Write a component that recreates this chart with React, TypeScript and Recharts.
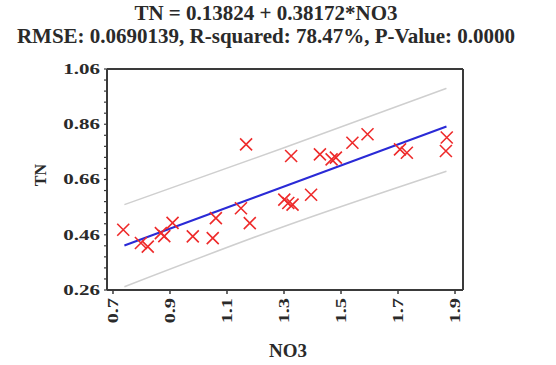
import { ComposedChart, Line, Scatter, XAxis, YAxis } from "recharts";

const no3Values = [
  0.736, 0.798, 0.822, 0.868, 0.909, 0.88, 0.98, 1.05, 1.061, 1.167, 1.149,
  1.18, 1.301, 1.33, 1.315, 1.325, 1.395, 1.426, 1.467, 1.482, 1.54, 1.593,
  1.707, 1.731, 1.871, 1.868,
];
const tnValues = [
  0.478, 0.43, 0.417, 0.466, 0.503, 0.455, 0.454, 0.448, 0.52, 0.787, 0.556,
  0.502, 0.587, 0.569, 0.575, 0.745, 0.605, 0.751, 0.733, 0.739, 0.793, 0.824,
  0.769, 0.757, 0.812, 0.763,
];

// fitted model and prediction limits
const fitX = [0.74, 1.87];
const fitY = [0.421, 0.852];
const upperX = [0.74, 1.3, 1.87];
const upperY = [0.569, 0.775, 0.99];
const lowerX = [0.74, 1.3, 1.87];
const lowerY = [0.272, 0.49, 0.69];

const xTicks = [0.7, 0.9, 1.1, 1.3, 1.5, 1.7, 1.9];
const yTicks = [0.26, 0.46, 0.66, 0.86, 1.06];
const yMinorTicks = [
  0.26, 0.3, 0.34, 0.38, 0.42, 0.46, 0.5, 0.54, 0.58, 0.62, 0.66, 0.7, 0.74,
  0.78, 0.82, 0.86, 0.9, 0.94, 0.98, 1.02, 1.06,
];

const xDomain: [number, number] = [0.679, 1.928];
const yDomain: [number, number] = [0.26, 1.06];

const toPoints = (xs: number[], ys: number[]) =>
  xs.map((x, i) => ({ x, y: ys[i] }));

const samples = toPoints(no3Values, tnValues);
const fitLine = toPoints(fitX, fitY);
const upperBand = toPoints(upperX, upperY);
const lowerBand = toPoints(lowerX, lowerY);

const FONT = '"Liberation Serif", "DejaVu Serif", serif';
const FRAME = "#3a3a3a";
const TEXT = "#2a2a2a";

const CrossShape = (props: { cx?: number; cy?: number }) => {
  const { cx = 0, cy = 0 } = props;
  const r = 6;
  return (
    <path
      d={`M${cx - r},${cy - r}L${cx + r},${cy + r}M${cx - r},${cy + r}L${cx + r},${cy - r}`}
      stroke="#ee2a2a"
      strokeWidth={1.6}
      fill="none"
    />
  );
};

const XTick = (props: { x?: number; y?: number; payload?: { value: number } }) => {
  const { x = 0, y = 0, payload } = props;
  return (
    <text
      transform={`translate(${x}, ${y + 2}) rotate(-90) scale(1.45, 1)`}
      textAnchor="end"
      dominantBaseline="central"
      fontFamily={FONT}
      fontWeight="bold"
      fontSize={14}
      fill={TEXT}
    >
      {payload ? payload.value.toFixed(1) : ""}
    </text>
  );
};

const YTick = (props: { x?: number; y?: number; payload?: { value: number } }) => {
  const { x = 0, y = 0, payload } = props;
  if (!payload || !yTicks.some((t) => Math.abs(t - payload.value) < 1e-6)) {
    return <g />;
  }
  return (
    <text
      transform={`translate(${x}, ${y}) scale(1.4, 1)`}
      textAnchor="end"
      dominantBaseline="central"
      fontFamily={FONT}
      fontWeight="bold"
      fontSize={15}
      fill={TEXT}
    >
      {payload.value.toFixed(2)}
    </text>
  );
};

const App = () => {
  return (
    <div
      style={{
        position: "absolute",
        left: 0,
        top: 0,
        width: 556,
        height: 365,
        background: "#fff",
        fontFamily: FONT,
      }}
    >
      <div
        style={{
          position: "absolute",
          left: 0,
          width: 532,
          top: 2,
          textAlign: "center",
          fontWeight: "bold",
          fontSize: 21,
          color: TEXT,
          lineHeight: "23px",
        }}
      >
        <div>TN = 0.13824 + 0.38172*NO3</div>
        <div>RMSE: 0.0690139, R-squared: 78.47%, P-Value: 0.0000</div>
      </div>
      <div
        style={{
          position: "absolute",
          left: 26,
          top: 163,
          width: 30,
          height: 24,
          transform: "rotate(-90deg)",
          textAlign: "center",
          fontWeight: "bold",
          fontSize: 16,
          color: TEXT,
          lineHeight: "24px",
        }}
      >
        TN
      </div>
      <div
        style={{
          position: "absolute",
          left: 246,
          width: 84,
          top: 340,
          textAlign: "center",
          fontWeight: "bold",
          fontSize: 19,
          color: TEXT,
          lineHeight: "22px",
        }}
      >
        NO3
      </div>
      <ComposedChart
        width={556}
        height={365}
        margin={{ top: 68, right: 92, bottom: 30, left: 47 }}
      >
        <XAxis
          xAxisId="b"
          type="number"
          dataKey="x"
          domain={xDomain}
          allowDataOverflow
          ticks={xTicks}
          interval={0}
          height={45}
          tickSize={4}
          tickLine={{ stroke: FRAME, strokeWidth: 1.5 }}
          axisLine={{ stroke: FRAME, strokeWidth: 2 }}
          tick={<XTick />}
        />
        <XAxis
          xAxisId="t"
          orientation="top"
          type="number"
          dataKey="x"
          domain={xDomain}
          allowDataOverflow
          ticks={xTicks}
          interval={0}
          height={1}
          tickSize={0}
          tick={false}
          tickLine={false}
          axisLine={{ stroke: FRAME, strokeWidth: 2 }}
        />
        <YAxis
          yAxisId="l"
          type="number"
          dataKey="y"
          domain={yDomain}
          allowDataOverflow
          ticks={yMinorTicks}
          interval={0}
          width={60}
          tickSize={3}
          tickMargin={4}
          tickLine={{ stroke: FRAME, strokeWidth: 1.2 }}
          axisLine={{ stroke: FRAME, strokeWidth: 2 }}
          tick={<YTick />}
        />
        <YAxis
          yAxisId="r"
          orientation="right"
          type="number"
          dataKey="y"
          domain={yDomain}
          allowDataOverflow
          ticks={yMinorTicks}
          interval={0}
          width={1}
          tickSize={0}
          tick={false}
          tickLine={false}
          axisLine={{ stroke: FRAME, strokeWidth: 2 }}
        />
        <Line
          xAxisId="b"
          yAxisId="l"
          data={upperBand}
          dataKey="y"
          type="monotone"
          stroke="#cfcfcf"
          strokeWidth={1.5}
          dot={false}
          isAnimationActive={false}
        />
        <Line
          xAxisId="b"
          yAxisId="l"
          data={lowerBand}
          dataKey="y"
          type="monotone"
          stroke="#cfcfcf"
          strokeWidth={1.5}
          dot={false}
          isAnimationActive={false}
        />
        <Line
          xAxisId="b"
          yAxisId="l"
          data={fitLine}
          dataKey="y"
          stroke="#2a2ad6"
          strokeWidth={2}
          dot={false}
          isAnimationActive={false}
        />
        <Scatter
          xAxisId="t"
          yAxisId="r"
          data={samples}
          dataKey="y"
          shape={<CrossShape />}
          isAnimationActive={false}
        />
      </ComposedChart>
    </div>
  );
};

export default App;
